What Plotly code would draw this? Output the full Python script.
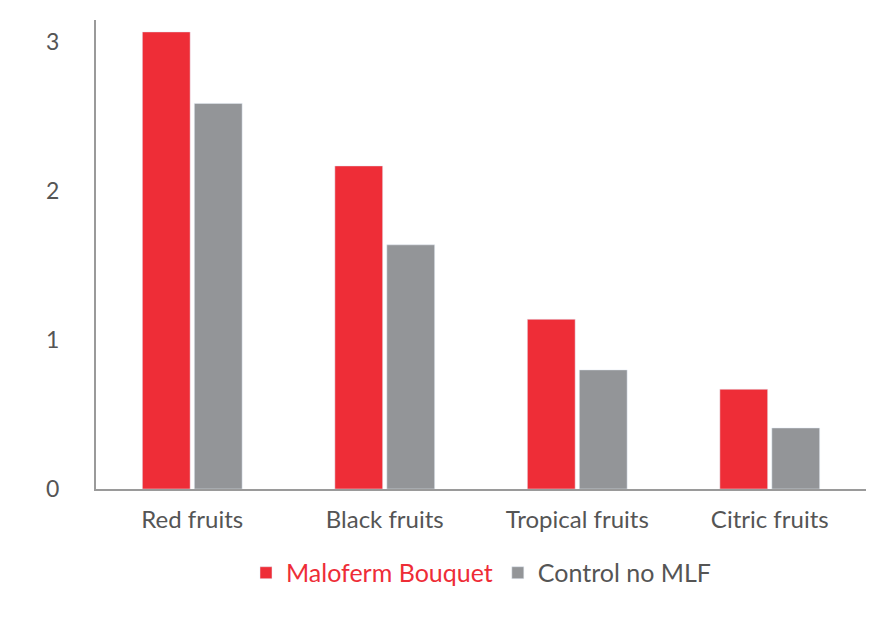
import plotly.graph_objects as go

categories = ["Red fruits", "Black fruits", "Tropical fruits", "Citric fruits"]
maloferm = [3.07, 2.17, 1.14, 0.67]
control = [2.59, 1.64, 0.80, 0.41]
yticks = [0, 1, 2, 3]

fig = go.Figure()
fig.add_bar(x=categories, y=maloferm, name='<span style="color:#ee2d37">Maloferm Bouquet</span>',
            marker_color="#ee2d37")
fig.add_bar(x=categories, y=control, name="Control no MLF", marker_color="#939598")
fig.update_layout(
    width=880, height=637, barmode="group", bargap=0.46, bargroupgap=0.08,
    plot_bgcolor="white", paper_bgcolor="white",
    margin=dict(l=88, r=22, t=12, b=156),
    font=dict(family="Lato", size=24, color="#555555"),
    legend=dict(orientation="h", x=0.5, xanchor="center", y=-0.13, yanchor="top",
                font=dict(size=25), itemwidth=30),
    xaxis=dict(showline=True, linecolor="#9a9a9a", linewidth=2, ticks="outside",
               ticklen=8, tickcolor="rgba(0,0,0,0)"),
    yaxis=dict(range=[0, 3.15], tickvals=yticks, showgrid=False, showline=True,
               linecolor="#9a9a9a", linewidth=2, ticks="outside", ticklen=30,
               tickcolor="rgba(0,0,0,0)", tickfont=dict(size=23)),
)
fig.write_html("out.html")
